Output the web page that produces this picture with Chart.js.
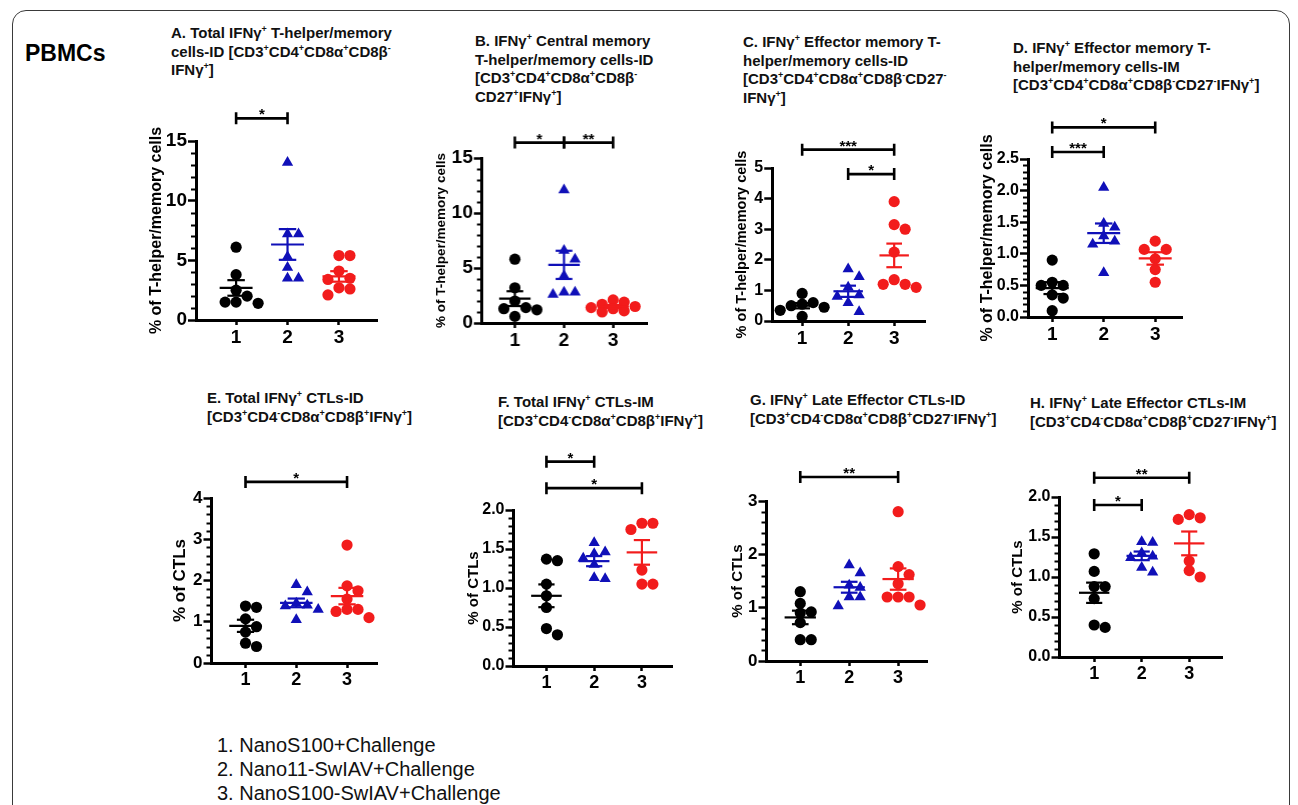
<!DOCTYPE html>
<html>
<head>
<meta charset="utf-8">
<script src="https://cdn.jsdelivr.net/npm/chart.js@4.4.1/dist/chart.umd.min.js"></script>
<style>
body { margin: 0; background: #fff; font-family: 'Liberation Sans', Arial, sans-serif; }
#fig { position: relative; width: 1298px; height: 805px; overflow: hidden; background: #fff; }
.frame { position: absolute; left: 12px; top: 10px; width: 1276px; height: 840px; border: 1.5px solid #3a3a3a; border-radius: 14px; }
.ttl { position: absolute; font-weight: bold; font-size: 15px; line-height: 18.5px; white-space: nowrap; color: #111; }
.ttl sup { font-size: 9px; line-height: 0; vertical-align: 6px; }
.pbmc { position: absolute; left: 25px; top: 40px; font-weight: bold; font-size: 23px; }
.legend { position: absolute; left: 217px; top: 733px; font-size: 20px; line-height: 24px; color: #111; }
canvas { position: absolute; }
</style>
</head>
<body>
<div id="fig">
  <div class="frame"></div>
  <div class="pbmc">PBMCs</div>
  <div class="ttl" style="left:171px;top:24px">A. Total IFNγ<sup>+</sup> T-helper/memory<br>cells-ID [CD3<sup>+</sup>CD4<sup>+</sup>CD8α<sup>+</sup>CD8β<sup>-</sup><br>IFNγ<sup>+</sup>]</div>
  <div class="ttl" style="left:475px;top:32px">B. IFNγ<sup>+</sup> Central memory<br>T-helper/memory cells-ID<br>[CD3<sup>+</sup>CD4<sup>+</sup>CD8α<sup>+</sup>CD8β<sup>-</sup><br>CD27<sup>+</sup>IFNγ<sup>+</sup>]</div>
  <div class="ttl" style="left:743px;top:33px">C. IFNγ<sup>+</sup> Effector memory T-<br>helper/memory cells-ID<br>[CD3<sup>+</sup>CD4<sup>+</sup>CD8α<sup>+</sup>CD8β<sup>-</sup>CD27<sup>-</sup><br>IFNγ<sup>+</sup>]</div>
  <div class="ttl" style="left:1013px;top:39px">D. IFNγ<sup>+</sup> Effector memory T-<br>helper/memory cells-IM<br>[CD3<sup>+</sup>CD4<sup>+</sup>CD8α<sup>+</sup>CD8β<sup>-</sup>CD27<sup>-</sup>IFNγ<sup>+</sup>]</div>
  <div class="ttl" style="left:207px;top:389px">E. Total IFNγ<sup>+</sup> CTLs-ID<br>[CD3<sup>+</sup>CD4<sup>-</sup>CD8α<sup>+</sup>CD8β<sup>+</sup>IFNγ<sup>+</sup>]</div>
  <div class="ttl" style="left:498px;top:393px">F. Total IFNγ<sup>+</sup> CTLs-IM<br>[CD3<sup>+</sup>CD4<sup>-</sup>CD8α<sup>+</sup>CD8β<sup>+</sup>IFNγ<sup>+</sup>]</div>
  <div class="ttl" style="left:750px;top:391px">G. IFNγ<sup>+</sup> Late Effector CTLs-ID<br>[CD3<sup>+</sup>CD4<sup>-</sup>CD8α<sup>+</sup>CD8β<sup>+</sup>CD27<sup>-</sup>IFNγ<sup>+</sup>]</div>
  <div class="ttl" style="left:1030px;top:394px">H. IFNγ<sup>+</sup> Late Effector CTLs-IM<br>[CD3<sup>+</sup>CD4<sup>-</sup>CD8α<sup>+</sup>CD8β<sup>+</sup>CD27<sup>-</sup>IFNγ<sup>+</sup>]</div>
  <div class="legend" id="legend"></div>
</div>
<script>
// groups
const groups = [1, 2, 3];
const groupNames = ['NanoS100+Challenge', 'Nano11-SwIAV+Challenge', 'NanoS100-SwIAV+Challenge'];
const groupColors = ['#000000', '#1010b8', '#f21c1c'];
const groupShapes = ['circle', 'triangle', 'circle'];

// values (one array per group)
const A1 = [6.1, 3.8, 2.5, 2.0, 1.5, 1.4, 1.5];
const A2 = [13.2, 7.2, 7.2, 4.4, 5.3, 3.5, 3.5];
const A3 = [5.4, 5.4, 4.1, 3.5, 3.4, 2.7, 2.6, 2.1];
const B1 = [5.8, 3.2, 2.0, 1.4, 1.3, 1.2, 0.6];
const B2 = [12.1, 6.6, 5.8, 4.3, 2.6, 2.8, 2.8];
const B3 = [2.1, 1.9, 1.7, 1.5, 1.4, 1.3, 1.1, 1.0];
const C1 = [0.9, 0.6, 0.5, 0.55, 0.45, 0.35, 0.15];
const C2 = [1.7, 1.45, 1.1, 0.85, 0.8, 0.6, 0.3];
const C3 = [3.9, 3.15, 3.0, 2.25, 1.35, 1.1, 1.2, 1.2];
const D1 = [0.9, 0.55, 0.5, 0.5, 0.35, 0.3, 0.1];
const D2 = [2.05, 1.48, 1.42, 1.28, 1.2, 1.15, 0.7];
const D3 = [1.2, 1.07, 1.07, 0.92, 0.75, 0.55];
const E1 = [1.35, 1.38, 1.07, 0.88, 0.75, 0.48, 0.4];
const E2 = [1.9, 1.72, 1.45, 1.4, 1.38, 1.3, 1.05];
const E3 = [2.86, 1.87, 1.75, 1.55, 1.3, 1.3, 1.25, 1.1];
const F1 = [1.37, 1.35, 1.05, 0.9, 0.75, 0.48, 0.4];
const F2 = [1.58, 1.46, 1.44, 1.38, 1.3, 1.13, 1.12];
const F3 = [1.83, 1.83, 1.75, 1.23, 1.05, 1.05];
const G1 = [1.3, 1.08, 0.92, 0.9, 0.72, 0.4, 0.4];
const G2 = [1.8, 1.65, 1.42, 1.38, 1.2, 1.2, 1.03];
const G3 = [2.8, 1.77, 1.62, 1.45, 1.2, 1.2, 1.2, 1.05];
const H1 = [1.29, 1.07, 0.88, 0.88, 0.73, 0.37, 0.4];
const H2 = [1.44, 1.43, 1.3, 1.26, 1.24, 1.12, 1.06];
const H3 = [1.78, 1.74, 1.72, 1.2, 1.08, 1.0];

// y ticks
const ticks15 = [0, 5, 10, 15];
const labels15 = ['0', '5', '10', '15'];
const ticks5 = [0, 1, 2, 3, 4, 5];
const labels5 = ['0', '1', '2', '3', '4', '5'];
const ticks25 = [0, 0.5, 1, 1.5, 2, 2.5];
const labels25 = ['0.0', '0.5', '1.0', '1.5', '2.0', '2.5'];
const ticks4 = [0, 1, 2, 3, 4];
const labels4 = ['0', '1', '2', '3', '4'];
const ticks2 = [0, 0.5, 1, 1.5, 2];
const labels2 = ['0.0', '0.5', '1.0', '1.5', '2.0'];
const ticks3 = [0, 1, 2, 3];
const labels3 = ['0', '1', '2', '3'];

// significance brackets: from group, to group, label, height (y units)
const sigA = [[1, 2, '*', 16.9]];
const sigB = [[1, 2, '*', 16.4], [2, 3, '**', 16.4]];
const sigC = [[1, 3, '***', 5.6], [2, 3, '*', 4.8]];
const sigD = [[1, 3, '*', 3.0], [1, 2, '***', 2.61]];
const sigE = [[1, 3, '*', 4.39]];
const sigF = [[1, 2, '*', 2.62], [1, 3, '*', 2.28]];
const sigG = [[1, 3, '**', 3.45]];
const sigH = [[1, 3, '**', 2.24], [1, 2, '*', 1.9]];

const yTitleTh = '% of T-helper/memory cells';
const yTitleCtl = '% of CTLs';

const panels = [
  { vals: [A1, A2, A3], ticks: ticks15, labels: labels15, minor: 1, sig: sigA, yTitle: yTitleTh,
    ax: 196, top: 141, bottom: 320, right: 377, xmin: 0.22, xmax: 3.74, tf: 19, xf: 19, ytf: 16, gap: 39 },
  { vals: [B1, B2, B3], ticks: ticks15, labels: labels15, minor: 1, sig: sigB, yTitle: yTitleTh,
    ax: 482, top: 158, bottom: 323, right: 647, xmin: 0.33, xmax: 3.69, tf: 19, xf: 19, ytf: 13.5, gap: 40 },
  { vals: [C1, C2, C3], ticks: ticks5, labels: labels5, minor: 0, sig: sigC, yTitle: yTitleTh,
    ax: 772, top: 168, bottom: 321, right: 925, xmin: 0.35, xmax: 3.67, tf: 16, xf: 19, ytf: 14.5, gap: 30 },
  { vals: [D1, D2, D3], ticks: ticks25, labels: labels25, minor: 0.1, sig: sigD, yTitle: yTitleTh,
    ax: 1028, top: 159, bottom: 317, right: 1182, xmin: 0.53, xmax: 3.52, tf: 16, xf: 19, ytf: 16, gap: 40 },
  { vals: [E1, E2, E3], ticks: ticks4, labels: labels4, minor: 0.2, sig: sigE, yTitle: yTitleCtl,
    ax: 211, top: 498, bottom: 663, right: 377, xmin: 0.33, xmax: 3.59, tf: 17, xf: 18, ytf: 17, gap: 31 },
  { vals: [F1, F2, F3], ticks: ticks2, labels: labels2, minor: 0.1, sig: sigF, yTitle: yTitleCtl,
    ax: 513, top: 510, bottom: 666, right: 672, xmin: 0.31, xmax: 3.63, tf: 16, xf: 18, ytf: 15, gap: 40 },
  { vals: [G1, G2, G3], ticks: ticks3, labels: labels3, minor: 0.2, sig: sigG, yTitle: yTitleCtl,
    ax: 766, top: 501, bottom: 661, right: 927, xmin: 0.31, xmax: 3.59, tf: 17, xf: 18, ytf: 15, gap: 29 },
  { vals: [H1, H2, H3], ticks: ticks2, labels: labels2, minor: 0.1, sig: sigH, yTitle: yTitleCtl,
    ax: 1059, top: 497, bottom: 657, right: 1222, xmin: 0.27, xmax: 3.69, tf: 16, xf: 18, ytf: 15, gap: 42 }
];

document.getElementById('legend').innerHTML =
  groupNames.map((n, i) => (i + 1) + '. ' + n).join('<br>');

const FONT = "'Liberation Sans', Arial, sans-serif";
const PT = 62, PR = 8, XH = 36;

const mean = a => a.reduce((s, v) => s + v, 0) / a.length;
const sem = a => {
  const m = mean(a);
  return Math.sqrt(a.reduce((s, v) => s + (v - m) ** 2, 0) / (a.length - 1) / a.length);
};

// spread points sideways (kept within +-2 steps of the group centre)
function swarm(vals, g, p) {
  const yPx = (p.bottom - p.top) / p.ticks[p.ticks.length - 1];
  const xPx = (p.right - p.ax) / (p.xmax - p.xmin);
  const order = vals.map((v, i) => i).sort((a, b) => vals[b] - vals[a]);
  const cands = [0, 1, -1, 2, -2].map(k => k * 11);
  const placed = [];
  const out = [];
  order.forEach(i => {
    const py = vals[i] * yPx;
    let best = 0, bestD = -1;
    for (const off of cands) {
      const d = Math.min(Infinity, ...placed.map(q => Math.hypot(q.px - off, q.py - py)));
      if (d >= 9.5) { best = off; break; }
      if (d > bestD) { bestD = d; best = off; }
    }
    placed.push({ px: best, py });
    out.push({ x: g + best / xPx, y: vals[i] });
  });
  return out;
}

function seg(x1, y1, x2, y2, color) {
  return { data: [{ x: x1, y: y1 }, { x: x2, y: y2 }], showLine: true, borderColor: color,
           borderWidth: 2.2, pointRadius: 0, order: 0, clip: false };
}

function extrasPlugin(p) {
  return {
    id: 'extras',
    afterDraw(chart) {
      const { ctx, scales: { x, y } } = chart;
      ctx.save();
      ctx.strokeStyle = '#000';
      ctx.fillStyle = '#000';
      // minor ticks
      if (p.minor) {
        ctx.lineWidth = 2;
        const ymax = p.ticks[p.ticks.length - 1];
        for (let v = p.minor; v < ymax - 1e-6; v += p.minor) {
          if (p.ticks.some(t => Math.abs(t - v) < 1e-6)) continue;
          const py = Math.round(y.getPixelForValue(v)) + 0.5;
          ctx.beginPath();
          ctx.moveTo(x.left - 1, py);
          ctx.lineTo(x.left - 5, py);
          ctx.stroke();
        }
      }
      // brackets
      ctx.lineWidth = 2.6;
      ctx.font = 'bold 15px ' + FONT;
      ctx.textAlign = 'center';
      ctx.textBaseline = 'alphabetic';
      p.sig.forEach(([g1, g2, label, lv]) => {
        const x1 = x.getPixelForValue(g1), x2 = x.getPixelForValue(g2), py = y.getPixelForValue(lv);
        ctx.beginPath();
        ctx.moveTo(x1, py); ctx.lineTo(x2, py);
        ctx.moveTo(x1, py - 6); ctx.lineTo(x1, py + 6);
        ctx.moveTo(x2, py - 6); ctx.lineTo(x2, py + 6);
        ctx.stroke();
        ctx.fillText(label, (x1 + x2) / 2, py + 1);
      });
      ctx.restore();
    }
  };
}

const fig = document.getElementById('fig');

panels.forEach(p => {
  const YW = p.gap + p.ytf / 2;
  const cv = document.createElement('canvas');
  const w = YW + (p.right - p.ax) + PR;
  const h = PT + (p.bottom - p.top) + XH;
  cv.width = w; cv.height = h;
  cv.style.left = (p.ax - YW) + 'px';
  cv.style.top = (p.top - PT) + 'px';
  cv.style.width = w + 'px'; cv.style.height = h + 'px';
  fig.appendChild(cv);

  const datasets = [];
  p.vals.forEach((vals, gi) => {
    const g = groups[gi], c = groupColors[gi];
    const m = mean(vals), s = sem(vals);
    datasets.push(seg(g - 0.32, m, g + 0.32, m, c));
    datasets.push(seg(g - 0.17, m + s, g + 0.17, m + s, c));
    datasets.push(seg(g - 0.17, m - s, g + 0.17, m - s, c));
    datasets.push(seg(g, m - s, g, m + s, c));
    datasets.push({
      data: swarm(vals, g, p),
      pointStyle: groupShapes[gi],
      pointRadius: groupShapes[gi] === 'triangle' ? 6.5 : 5.6,
      backgroundColor: c, borderColor: c, borderWidth: 0,
      order: 1, clip: false
    });
  });

  new Chart(cv, {
    type: 'scatter',
    data: { datasets },
    options: {
      responsive: false,
      animation: false,
      devicePixelRatio: 1,
      layout: { padding: { top: PT, right: PR, left: 0, bottom: 0 } },
      plugins: { legend: { display: false }, tooltip: { enabled: false } },
      scales: {
        x: {
          type: 'linear', min: p.xmin, max: p.xmax,
          afterBuildTicks: s => { s.ticks = groups.map(v => ({ value: v })); },
          afterFit: s => { s.height = XH; },
          border: { color: '#000', width: 3 },
          grid: { drawOnChartArea: false, tickLength: 5, tickWidth: 2.5, tickColor: '#000' },
          ticks: { color: '#000', padding: 1, font: { family: FONT, size: p.xf, weight: 'bold' },
                   callback: v => String(v) }
        },
        y: {
          min: 0, max: p.ticks[p.ticks.length - 1],
          afterBuildTicks: s => { s.ticks = p.ticks.map(v => ({ value: v })); },
          afterFit: s => { s.width = YW; },
          border: { color: '#000', width: 3 },
          grid: { drawOnChartArea: false, tickLength: 8, tickWidth: 2.5, tickColor: '#000' },
          ticks: { color: '#000', padding: 1, font: { family: FONT, size: p.tf, weight: 'bold' },
                   callback: (v, i) => p.labels[i] },
          title: { display: true, text: p.yTitle, color: '#000', padding: 0,
                   font: { family: FONT, size: p.ytf, weight: 'bold', lineHeight: 1 } }
        }
      }
    },
    plugins: [extrasPlugin(p)]
  });
});
</script>
</body>
</html>
